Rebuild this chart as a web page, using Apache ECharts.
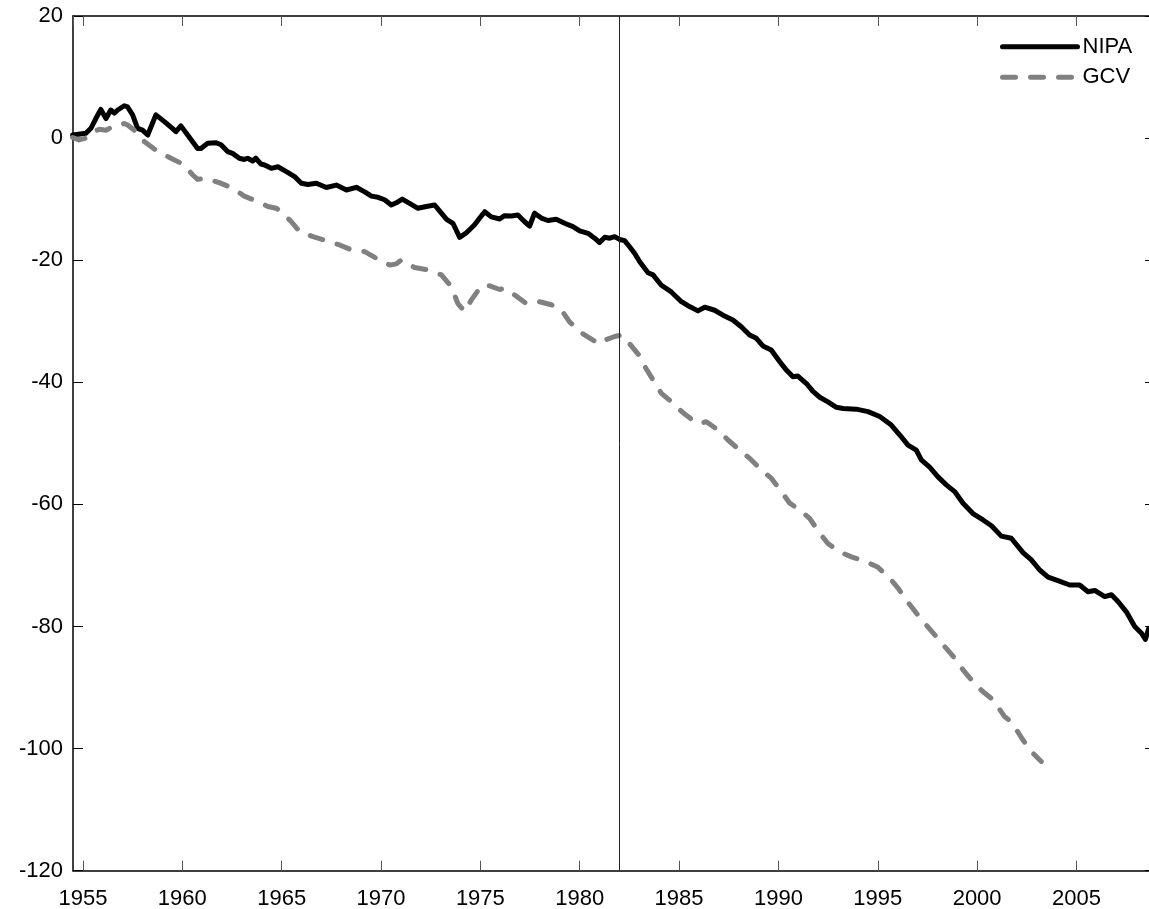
<!DOCTYPE html>
<html>
<head>
<meta charset="utf-8">
<script src="https://cdn.jsdelivr.net/npm/echarts@6/dist/echarts.min.js"></script>
<style>
html,body{margin:0;padding:0;background:#fff;}
#chart{width:1149px;height:909px;}
</style>
</head>
<body>
<div id="chart"></div>
<script>
// NIPA series: [year] and [value]
var nipaYears = [1954.48,1955.15,1955.4,1955.65,1955.9,1956.16,1956.4,1956.58,1956.75,1957.08,1957.25,1957.5,1957.75,1958.0,1958.26,1958.67,1959.1,1959.5,1959.68,1959.93,1960.27,1960.77,1960.94,1961.28,1961.7,1961.95,1962.28,1962.53,1962.87,1963.12,1963.29,1963.54,1963.7,1963.96,1964.14,1964.48,1964.81,1965.24,1965.65,1965.99,1966.32,1966.75,1967.25,1967.75,1968.26,1968.76,1969.18,1969.52,1969.85,1970.18,1970.52,1970.77,1971.07,1971.44,1971.86,1972.28,1972.7,1973.04,1973.3,1973.62,1973.96,1974.3,1974.71,1974.97,1975.22,1975.55,1975.97,1976.22,1976.56,1976.89,1977.23,1977.48,1977.73,1978.07,1978.4,1978.82,1979.24,1979.66,1980.0,1980.42,1980.75,1981.0,1981.26,1981.51,1981.76,1982.0,1982.26,1982.51,1982.77,1983.02,1983.44,1983.69,1984.11,1984.61,1985.12,1985.53,1985.95,1986.29,1986.79,1987.21,1987.71,1988.13,1988.55,1988.89,1989.22,1989.64,1990.06,1990.4,1990.73,1990.98,1991.41,1991.74,1992.08,1992.49,1992.92,1993.25,1993.92,1994.51,1995.1,1995.68,1996.1,1996.52,1996.94,1997.19,1997.61,1998.03,1998.45,1998.87,1999.29,1999.79,2000.3,2000.72,2001.22,2001.72,2002.31,2002.73,2003.15,2003.57,2004.07,2004.66,2005.16,2005.58,2005.92,2006.42,2006.76,2007.09,2007.51,2007.93,2008.27,2008.47,2008.64];
var nipaValues = [0.5,0.8,1.6,3.2,4.7,3.2,4.6,4.1,4.6,5.3,5.1,3.8,1.6,1.3,0.5,3.8,2.7,1.6,1.05,2.0,0.5,-1.7,-1.7,-0.85,-0.75,-1.1,-2.2,-2.5,-3.3,-3.5,-3.3,-3.75,-3.3,-4.25,-4.4,-4.95,-4.7,-5.5,-6.3,-7.4,-7.6,-7.4,-8.1,-7.7,-8.5,-8.06,-8.8,-9.5,-9.7,-10.1,-10.96,-10.6,-10.0,-10.7,-11.5,-11.2,-10.96,-12.3,-13.3,-13.95,-16.25,-15.5,-14.2,-13.1,-12.05,-12.9,-13.25,-12.7,-12.75,-12.6,-13.7,-14.4,-12.3,-13.1,-13.5,-13.3,-13.95,-14.5,-15.2,-15.6,-16.4,-17.1,-16.25,-16.4,-16.15,-16.6,-16.8,-17.8,-18.9,-20.25,-22.05,-22.4,-24.1,-25.2,-26.8,-27.6,-28.3,-27.7,-28.2,-29.0,-29.8,-30.9,-32.25,-32.8,-34.05,-34.7,-36.6,-38.0,-39.1,-38.97,-40.2,-41.5,-42.45,-43.2,-44.1,-44.3,-44.4,-44.8,-45.6,-47.0,-48.6,-50.3,-51.1,-52.7,-53.9,-55.5,-56.8,-57.9,-59.8,-61.5,-62.55,-63.5,-65.2,-65.55,-67.9,-69.1,-70.75,-71.9,-72.5,-73.2,-73.2,-74.3,-74.1,-75.1,-74.8,-75.9,-77.6,-80.0,-81.1,-82.1,-80.3];

// GCV series
var gcvYears = [1954.48,1954.8,1955.15,1955.5,1955.83,1956.16,1956.46,1956.75,1957.08,1957.25,1957.67,1958.1,1958.76,1959.43,1960.02,1960.52,1960.77,1961.19,1961.86,1962.53,1963.12,1963.8,1964.31,1964.73,1964.98,1965.49,1965.9,1966.58,1967.25,1967.92,1968.5,1969.18,1969.85,1970.44,1970.77,1971.02,1971.69,1972.36,1973.04,1973.54,1973.87,1974.21,1974.55,1975.05,1975.47,1975.97,1976.22,1976.73,1977.31,1977.98,1978.57,1979.08,1979.49,1980.08,1980.67,1981.0,1981.26,1981.76,1982.1,1982.43,1983.02,1983.18,1983.69,1984.11,1984.69,1985.2,1985.78,1986.04,1986.37,1986.96,1987.46,1988.05,1988.55,1989.06,1989.64,1990.15,1990.57,1991.07,1991.57,1992.08,1992.49,1993.08,1993.67,1994.43,1995.01,1995.6,1996.02,1996.44,1996.94,1997.44,1997.95,1998.45,1998.87,1999.29,1999.79,2000.3,2000.8,2001.39,2001.72,2002.31,2002.73,2003.23];
var gcvValues = [0.1,-0.3,0,1.05,1.45,1.3,1.8,1.9,2.4,2.15,1.05,-0.6,-2.2,-3.3,-4.25,-6.0,-6.75,-6.6,-7.3,-8.2,-9.5,-10.4,-11.2,-11.5,-12.05,-13.7,-15.3,-16.15,-16.8,-17.5,-18.3,-18.6,-19.85,-20.8,-20.6,-19.97,-21.2,-21.6,-22.4,-24.35,-27.1,-28.4,-26.5,-24.2,-24.2,-24.8,-24.6,-25.7,-27.1,-26.8,-27.3,-28.15,-30.1,-31.9,-33.1,-33.7,-33.1,-32.5,-32.25,-33.35,-35.7,-36.9,-39.6,-41.8,-43.4,-45.0,-46.45,-46.8,-46.45,-47.8,-49.45,-51.1,-52.45,-54.1,-55.7,-57.9,-59.8,-60.9,-62.3,-64.7,-66.4,-67.75,-68.6,-69.4,-70.3,-72.1,-73.7,-75.7,-77.8,-79.75,-81.7,-83.6,-85.2,-87.1,-89.05,-90.7,-92.0,-94.8,-95.6,-98.6,-100.5,-102.1];

var seriesNames = ['NIPA', 'GCV'];
var markerYear = 1982;
var xRange = [1954.5, 2008.65];
var yRange = [-120, 20];
var yStep = 20;
var xStep = 5;

function zip(xs, ys) { return xs.map(function (x, i) { return [x, ys[i]]; }); }

var FONT = '"Liberation Sans", Arial, sans-serif';
var chart = echarts.init(document.getElementById('chart'), null, { renderer: 'canvas' });

function xAxisCfg(pos, showLabel) {
  return {
    type: 'value', position: pos, min: xRange[0], max: xRange[1],
    splitNumber: 11, minInterval: xStep, maxInterval: xStep,
    axisLine: { show: true, onZero: false, lineStyle: { color: '#000', width: 1.5 } },
    axisTick: { show: true, inside: true, length: 10, lineStyle: { color: '#555', width: 1 } },
    axisLabel: {
      show: showLabel, showMinLabel: false, showMaxLabel: false, margin: 17,
      color: '#000', fontSize: 22, fontFamily: FONT,
      formatter: function (v) { return Math.abs(v % xStep) < 1e-6 ? String(Math.round(v)) : ''; }
    },
    splitLine: { show: false }
  };
}
function yAxisCfg(pos, showLabel) {
  var left = pos === 'left';
  return {
    type: 'value', position: pos, min: yRange[0], max: yRange[1], interval: yStep,
    axisLine: { show: left, onZero: false, lineStyle: { color: '#000', width: 1.5 } },
    axisTick: { show: true, inside: true, length: left ? 10 : 4, lineStyle: { color: '#000', width: 1 } },
    axisLabel: { show: showLabel, margin: 10, color: '#000', fontSize: 22, fontFamily: FONT },
    splitLine: { show: false }
  };
}

chart.setOption({
  animation: false,
  backgroundColor: '#fff',
  grid: { left: 73, top: 16, right: 0, bottom: 38.3, containLabel: false, outerBoundsMode: 'none' },
  xAxis: [xAxisCfg('bottom', true), xAxisCfg('top', false)],
  yAxis: [yAxisCfg('left', true), yAxisCfg('right', false)],
  legend: {
    data: seriesNames,
    orient: 'vertical', left: 1000, top: 35.7, align: 'left', padding: 0,
    itemWidth: 75, itemHeight: 22, itemGap: 8.6,
    itemStyle: { opacity: 0 },
    lineStyle: { width: 5, cap: 'round' },
    textStyle: { color: '#000', fontSize: 22, fontFamily: FONT, lineHeight: 22 }
  },
  series: [
    {
      name: seriesNames[0], type: 'line', xAxisIndex: 0, yAxisIndex: 0,
      data: zip(nipaYears, nipaValues),
      showSymbol: false, symbol: 'none',
      lineStyle: { color: '#000', width: 5, join: 'round', cap: 'round' },
      itemStyle: { color: '#000' },
      markLine: {
        silent: true, symbol: ['none', 'none'], animation: false,
        label: { show: false },
        lineStyle: { color: '#222', width: 1, type: 'solid' },
        emphasis: { disabled: true },
        data: [{ xAxis: markerYear }]
      }
    },
    {
      name: seriesNames[1], type: 'line', xAxisIndex: 0, yAxisIndex: 0,
      data: zip(gcvYears, gcvValues),
      showSymbol: false, symbol: 'none',
      lineStyle: { color: '#808080', width: 5, type: [13, 15], join: 'round', cap: 'round' },
      itemStyle: { color: '#808080' }
    }
  ]
});
</script>
</body>
</html>
